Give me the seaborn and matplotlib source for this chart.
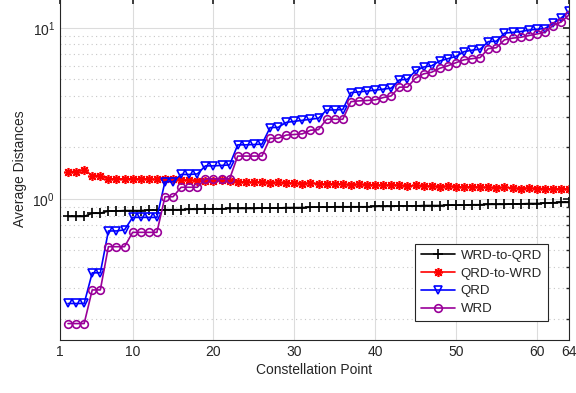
import numpy as np
import pandas as pd
import matplotlib
matplotlib.use("Agg")
import matplotlib.pyplot as plt
import seaborn as sns
from matplotlib.ticker import FixedLocator, LogLocator, NullFormatter

# Constellation point indices
points = list(range(2, 65))

wrd_to_qrd = [0.79, 0.79, 0.79, 0.825, 0.825, 0.85, 0.85, 0.855, 0.855, 0.855, 0.86, 0.86,
              0.865, 0.865, 0.865, 0.87, 0.87, 0.875, 0.875, 0.875, 0.88, 0.88, 0.88, 0.88,
              0.885, 0.885, 0.885, 0.89, 0.89, 0.89, 0.895, 0.895, 0.895, 0.9, 0.9, 0.9,
              0.9, 0.9, 0.905, 0.905, 0.905, 0.91, 0.91, 0.91, 0.915, 0.915, 0.915, 0.92,
              0.92, 0.92, 0.925, 0.925, 0.93, 0.93, 0.93, 0.935, 0.935, 0.94, 0.94, 0.945,
              0.95, 0.955, 0.955]
qrd_to_wrd = [1.445, 1.445, 1.48, 1.37, 1.37, 1.31, 1.31, 1.31, 1.31, 1.31, 1.31, 1.30,
              1.30, 1.30, 1.29, 1.29, 1.28, 1.28, 1.27, 1.29, 1.27, 1.26, 1.26, 1.25,
              1.26, 1.24, 1.25, 1.24, 1.24, 1.23, 1.24, 1.23, 1.22, 1.23, 1.22, 1.21,
              1.22, 1.21, 1.21, 1.20, 1.21, 1.20, 1.19, 1.20, 1.19, 1.19, 1.18, 1.19,
              1.18, 1.17, 1.18, 1.17, 1.17, 1.16, 1.17, 1.16, 1.15, 1.16, 1.15, 1.15,
              1.14, 1.15, 1.14]
qrd = [0.245, 0.245, 0.245, 0.37, 0.37, 0.65, 0.65, 0.66, 0.78, 0.78, 0.78, 0.78,
       1.26, 1.26, 1.39, 1.39, 1.40, 1.56, 1.56, 1.57, 1.58, 2.07, 2.07, 2.08, 2.09,
       2.61, 2.62, 2.80, 2.84, 2.88, 2.92, 2.96, 3.31, 3.31, 3.33, 4.18, 4.22, 4.27,
       4.32, 4.38, 4.44, 4.96, 5.0, 5.6, 5.9, 6.0, 6.4, 6.6, 6.8, 7.25, 7.4, 7.5,
       8.3, 8.35, 9.3, 9.4, 9.5, 9.7, 9.8, 9.9, 10.6, 11.4, 12.5]
wrd = [0.187, 0.187, 0.187, 0.294, 0.294, 0.526, 0.526, 0.526, 0.638, 0.638, 0.638, 0.638,
       1.03, 1.03, 1.17, 1.17, 1.17, 1.31, 1.31, 1.31, 1.31, 1.78, 1.78, 1.78, 1.78,
       2.26, 2.26, 2.36, 2.38, 2.40, 2.52, 2.54, 2.92, 2.92, 2.92, 3.70, 3.74, 3.76,
       3.79, 3.91, 4.0, 4.5, 4.5, 5.08, 5.38, 5.5, 5.8, 6.0, 6.25, 6.5, 6.6, 6.7,
       7.55, 7.65, 8.5, 8.7, 8.8, 9.0, 9.2, 9.4, 10.3, 10.8, 11.9]

x_ticks = [1, 10, 20, 30, 40, 50, 60, 64]

sns.set_theme(style="white")
plt.rcParams["font.family"] = ["Liberation Sans", "DejaVu Sans"]
plt.rcParams["mathtext.fontset"] = "custom"
plt.rcParams["mathtext.rm"] = "Liberation Sans"

fig = plt.figure(figsize=(5.76, 3.93), dpi=100)
ax = fig.add_axes([0.104, 0.135, 0.884, 0.871])

# eight-spoke asterisk for the QRD-to-WRD curve
asterisk = (8, 2, 0)
series = [
    ("WRD-to-QRD", wrd_to_qrd, "black", "+", 7),
    ("QRD-to-WRD", qrd_to_wrd, "#ff0000", asterisk, 6.5),
    ("QRD", qrd, "#0000ff", "v", 6),
    ("WRD", wrd, "#990099", "o", 5.5),
]
for name, vals, col, mk, ms in series:
    df = pd.DataFrame({"point": points, "dist": vals})
    sns.lineplot(data=df, x="point", y="dist", ax=ax, color=col, marker=mk,
                 markersize=ms, markerfacecolor="none", markeredgecolor=col,
                 markeredgewidth=1.2, linewidth=1.2, label=name, estimator=None)

ax.set_yscale("log")
ax.set_xlim(1, 64)
ax.set_ylim(0.15, 15)
ax.xaxis.set_major_locator(FixedLocator(x_ticks))
ax.set_xticklabels([str(t) for t in x_ticks])
ax.yaxis.set_major_locator(FixedLocator([1, 10]))
ax.set_yticklabels([r"$10^0$", r"$10^1$"])
ax.yaxis.set_minor_locator(LogLocator(base=10, subs=np.arange(2, 10)))
ax.yaxis.set_minor_formatter(NullFormatter())

ax.grid(True, which="major", color="#dcdcdc", linewidth=0.8, linestyle="-")
ax.grid(True, which="minor", axis="y", color="#c8c8c8", linewidth=0.8, linestyle=(0, (1, 3)))
ax.set_axisbelow(True)

ax.tick_params(which="both", direction="in", top=True, right=True, colors="#262626",
               labelsize=10, length=4)
ax.tick_params(which="minor", length=2.5)
for s in ax.spines.values():
    s.set_color("#262626")
    s.set_linewidth(0.8)

ax.set_xlabel("Constellation Point", fontsize=10, color="#262626", labelpad=3)
ax.set_ylabel("Average Distances", fontsize=10, color="#262626", labelpad=4)

leg = ax.legend(loc="lower right", bbox_to_anchor=(0.958, 0.055), fontsize=9.5,
                frameon=True, fancybox=False, edgecolor="#262626", framealpha=1,
                handlelength=2.6, borderpad=0.45, labelspacing=0.42, handletextpad=0.4,
                borderaxespad=0)
leg.get_frame().set_linewidth(0.8)

fig.savefig("out.png", dpi=100)
